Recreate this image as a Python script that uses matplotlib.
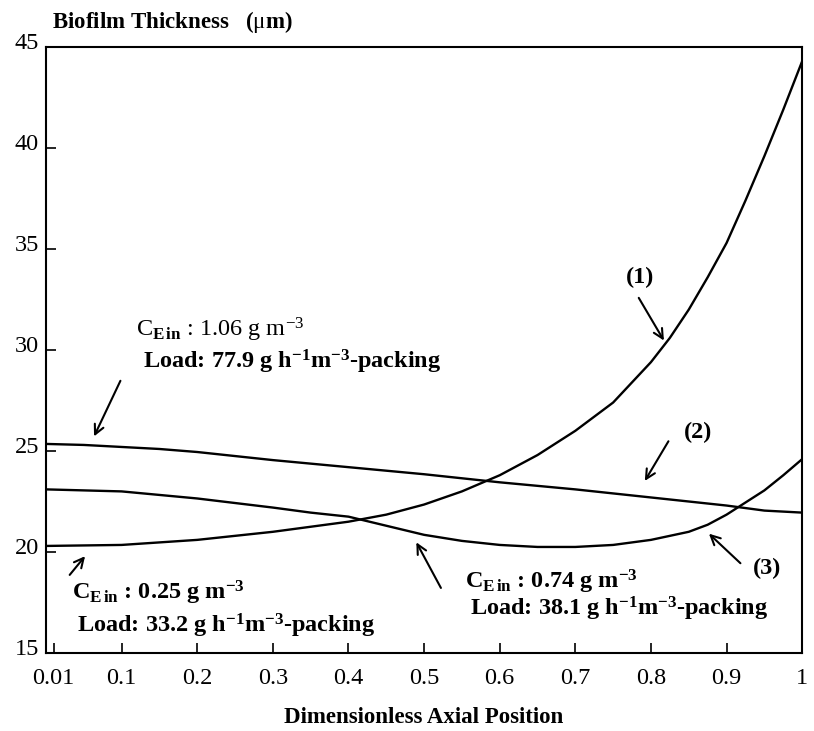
import matplotlib
matplotlib.use("Agg")
from matplotlib import pyplot as plt
from matplotlib.transforms import ScaledTranslation

plt.rcParams['font.family'] = ['Liberation Serif', 'DejaVu Serif']
plt.rcParams['mathtext.fontset'] = 'custom'
plt.rcParams['mathtext.rm'] = 'Liberation Serif'
plt.rcParams['mathtext.it'] = 'Liberation Serif:italic'
plt.rcParams['mathtext.bf'] = 'Liberation Serif:bold'

# curve (1): C_Ein 0.25 g m-3
x1 = [0.0, 0.1, 0.2, 0.3, 0.4, 0.45, 0.5, 0.55, 0.6, 0.65, 0.7, 0.75, 0.8,
      0.825, 0.85, 0.875, 0.9, 0.925, 0.95, 0.975, 1.0]
y1 = [20.3, 20.35, 20.6, 21.0, 21.5, 21.85, 22.35, 23.0, 23.8, 24.8, 26.0, 27.4, 29.4,
      30.6, 32.0, 33.6, 35.3, 37.4, 39.6, 41.9, 44.3]

# curve (2): C_Ein 1.06 g m-3
x2 = [0.0, 0.05, 0.1, 0.15, 0.2, 0.25, 0.3, 0.4, 0.5, 0.6, 0.7, 0.8, 0.9, 0.95, 1.0]
y2 = [25.35, 25.3, 25.2, 25.1, 24.95, 24.75, 24.55, 24.2, 23.85, 23.45, 23.1, 22.7, 22.3,
      22.05, 21.95]

# curve (3): C_Ein 0.74 g m-3
x3 = [0.0, 0.1, 0.2, 0.3, 0.35, 0.4, 0.45, 0.5, 0.55, 0.6, 0.65, 0.7, 0.75, 0.8,
      0.825, 0.85, 0.875, 0.9, 0.925, 0.95, 0.975, 1.0]
y3 = [23.1, 23.0, 22.65, 22.2, 21.95, 21.75, 21.3, 20.85, 20.55, 20.35, 20.25, 20.25, 20.35, 20.6,
      20.8, 21.0, 21.35, 21.85, 22.45, 23.05, 23.8, 24.6]

xticks = [0.01, 0.1, 0.2, 0.3, 0.4, 0.5, 0.6, 0.7, 0.8, 0.9, 1.0]
xticklabels = ['0.01', '0.1', '0.2', '0.3', '0.4', '0.5', '0.6', '0.7', '0.8', '0.9', '1']
yticks = [15, 20, 25, 30, 35, 40, 45]

fig = plt.figure(figsize=(8.14, 7.31), dpi=100)
ax = fig.add_axes([0.0565, 0.1067, 0.929, 0.829])

for xs, ys in [(x1, y1), (x2, y2), (x3, y3)]:
    ax.plot(xs, ys, color='black', lw=1.7)

ax.set_xlim(0.0, 1.0)
ax.set_ylim(15, 45)
ax.set_xticks(xticks)
ax.set_xticklabels(xticklabels)
ax.set_yticks(yticks)
ax.tick_params(direction='in', length=7, width=1.2, labelsize=17.5)
ax.tick_params(axis='x', pad=11)
ax.tick_params(axis='y', pad=5)
for sp in ax.spines.values():
    sp.set_linewidth(1.5)
# y labels sit a little above their ticks in the original
for lab in ax.get_yticklabels():
    lab.set_transform(lab.get_transform() + ScaledTranslation(0, 4 / 72, fig.dpi_scale_trans))

ax.set_xlabel('Dimensionless Axial Position', fontsize=16.5, fontweight='bold', labelpad=13)
fig.text(0.064, 0.97, 'Biofilm Thickness   ($\\mathrm{\\mu}$m)', fontsize=16.5,
         fontweight='bold', va='center', ha='left')

arrow = dict(arrowstyle='->', color='black', lw=1.5, mutation_scale=17)

def note(xy, xytext):
    ax.annotate('', xy=xy, xytext=xytext, arrowprops=arrow)

fs = 17.5

# curve labels
ax.text(0.786, 33.6, '(1)', fontsize=fs, fontweight='bold', ha='center', va='center')
note((0.819, 30.35), (0.782, 32.7))
ax.text(0.862, 25.94, '(2)', fontsize=fs, fontweight='bold', ha='center', va='center')
note((0.79, 23.4), (0.825, 25.6))
ax.text(0.954, 19.2, '(3)', fontsize=fs, fontweight='bold', ha='center', va='center')
note((0.874, 21.0), (0.921, 19.35))

# condition texts
ax.text(0.119, 31.0, 'C$_{\\mathbf{E\\,in}}$ : 1.06 g m$^{-3}$', fontsize=fs,
        ha='left', va='center')
ax.text(0.128, 29.4, 'Load: 77.9 g h$^{\\mathbf{-1}}$m$^{\\mathbf{-3}}$-packing',
        fontsize=fs, fontweight='bold', ha='left', va='center')
note((0.062, 25.6), (0.1, 28.6))

ax.text(0.034, 18.0, 'C$_{\\mathbf{E\\,in}}$ : 0.25 g m$^{\\mathbf{-3}}$', fontsize=fs,
        fontweight='bold', ha='left', va='center')
ax.text(0.041, 16.35, 'Load: 33.2 g h$^{\\mathbf{-1}}$m$^{\\mathbf{-3}}$-packing',
        fontsize=fs, fontweight='bold', ha='left', va='center')
note((0.054, 19.9), (0.029, 18.76))

ax.text(0.554, 18.5, 'C$_{\\mathbf{E\\,in}}$ : 0.74 g m$^{\\mathbf{-3}}$', fontsize=fs,
        fontweight='bold', ha='left', va='center')
ax.text(0.561, 17.2, 'Load: 38.1 g h$^{\\mathbf{-1}}$m$^{\\mathbf{-3}}$-packing',
        fontsize=fs, fontweight='bold', ha='left', va='center')
note((0.488, 20.6), (0.524, 18.1))

fig.savefig('out.png', dpi=100)
